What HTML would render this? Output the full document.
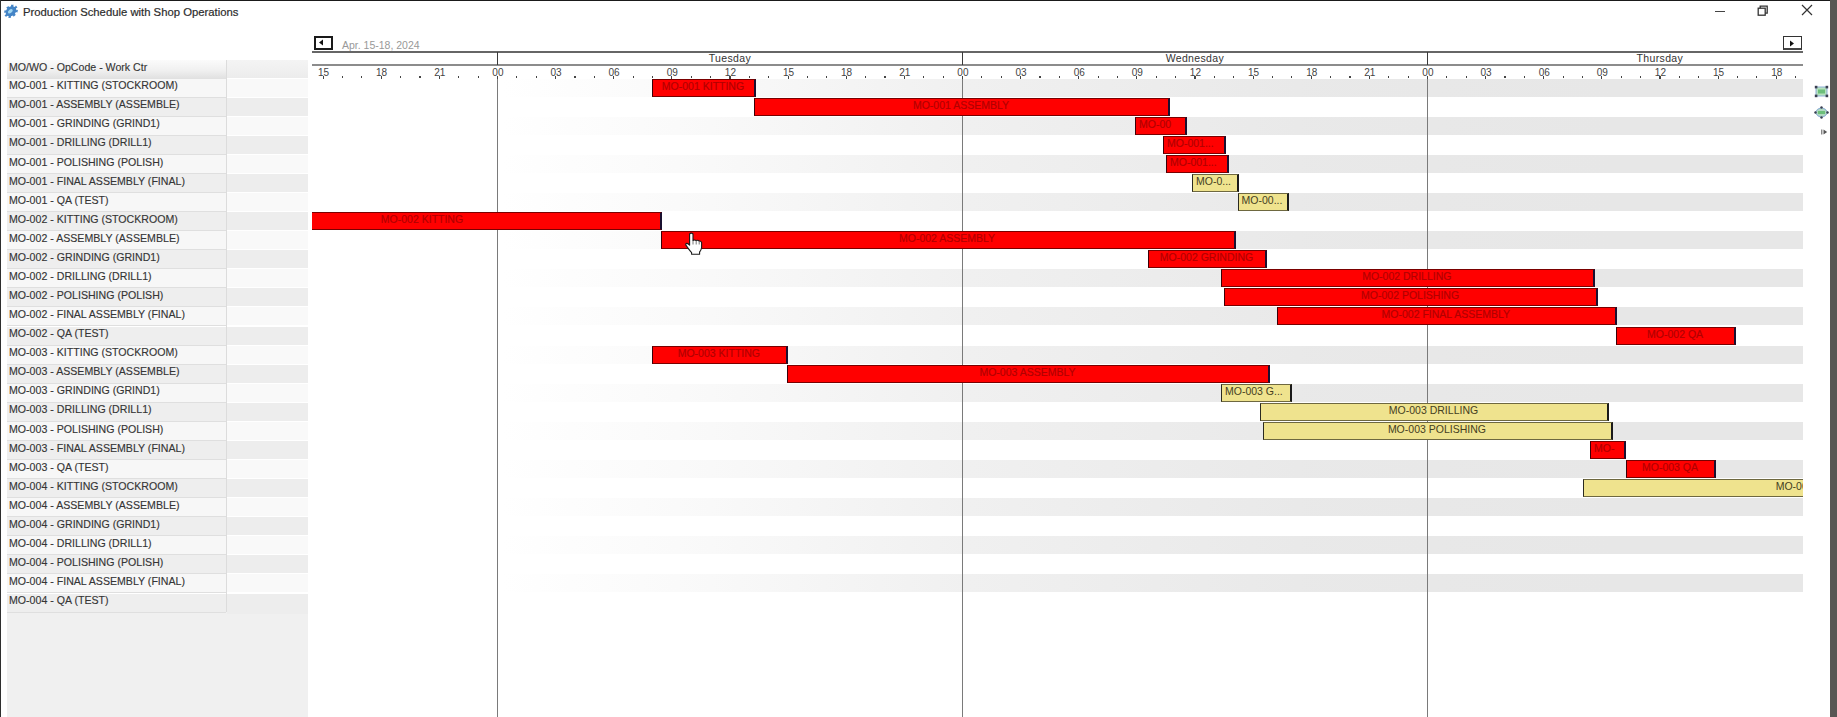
<!DOCTYPE html>
<html><head><meta charset="utf-8"><title>Production Schedule with Shop Operations</title>
<style>
html,body{margin:0;padding:0;}
body{width:1837px;height:717px;position:relative;overflow:hidden;background:#fff;font-family:"Liberation Sans",sans-serif;}
.a{position:absolute;}
.lbl{position:absolute;left:7px;width:219px;height:19.1px;background:#f7f7f7;border-bottom:1.2px solid #dfdfdf;box-sizing:border-box;}
.lbl.o{background:#eeeeee;}
.lt{position:absolute;left:9px;font-size:11.6px;color:#333;-webkit-text-stroke:0.15px #3a3a3a;white-space:nowrap;line-height:12px;transform:scaleX(0.9145);transform-origin:0 0;}
.st{position:absolute;height:18px;}
.bar{position:absolute;box-sizing:border-box;overflow:hidden;white-space:nowrap;font-size:10.5px;line-height:12px;}
.bar.r{background:#ff0000;border:1.4px solid #7a0000;border-left-color:#3a0008;border-right:2px solid #1a1030;color:#b00000;-webkit-text-stroke:0.15px #b00000;}
.bar.y{background:#efe38e;border:1.3px solid #6e6840;border-left:1.5px solid #2a2a20;border-right:2px solid #1a1a1a;color:#45401e;}
.bar span{position:absolute;top:0px;}
.hl{position:absolute;font-size:10px;color:#444;line-height:10px;width:30px;text-align:center;}
.tk{position:absolute;width:1.2px;height:2px;background:#444;top:76px;}
</style></head><body>

<div class="a" style="left:0;top:0;width:1837px;height:1px;background:#1a1a1a"></div>
<div class="a" style="left:0;top:0;width:1px;height:717px;background:#2e2e2e"></div>
<div class="a" style="left:1830px;top:0;width:7px;height:717px;background:#585654"></div>
<svg class="a" style="left:0.5px;top:1px" width="19" height="19" viewBox="-9.5 -9.5 19 19">
<g transform="translate(0.5,0.8) rotate(-40) scale(1,0.78)"><path d="M7.45 -1.51 L7.45 1.51 L5.79 1.13 L4.89 3.30 L6.33 4.20 L4.20 6.33 L3.30 4.89 L1.13 5.79 L1.51 7.45 L-1.51 7.45 L-1.13 5.79 L-3.30 4.89 L-4.20 6.33 L-6.33 4.20 L-4.89 3.30 L-5.79 1.13 L-7.45 1.51 L-7.45 -1.51 L-5.79 -1.13 L-4.89 -3.30 L-6.33 -4.20 L-4.20 -6.33 L-3.30 -4.89 L-1.13 -5.79 L-1.51 -7.45 L1.51 -7.45 L1.13 -5.79 L3.30 -4.89 L4.20 -6.33 L6.33 -4.20 L4.89 -3.30 L5.79 -1.13Z" fill="#4384c6"/><ellipse cx="-0.5" cy="-0.6" rx="2.8" ry="2.2" fill="#9fd6f2"/></g>
</svg>
<div class="a" style="left:23px;top:5px;font-size:11.3px;color:#2a2a2a;-webkit-text-stroke:0.2px #333;line-height:14px;white-space:nowrap">Production Schedule with Shop Operations</div>
<div class="a" style="left:1715px;top:10.5px;width:10px;height:1.3px;background:#444"></div>
<svg class="a" style="left:1757px;top:5px" width="12" height="11" viewBox="0 0 12 11"><rect x="1.2" y="3.2" width="7" height="7" fill="none" stroke="#333" stroke-width="1.3"/><path d="M3.2 3.2 V1.2 H10.2 V8.2 H8.2" fill="none" stroke="#333" stroke-width="1.3"/></svg>
<svg class="a" style="left:1801px;top:4px" width="12" height="12" viewBox="0 0 12 12"><path d="M1 1 L11 11 M11 1 L1 11" stroke="#333" stroke-width="1.2"/></svg>
<div class="a" style="left:7px;top:612px;width:301px;height:105px;background:#f0f0f0"></div><div class="a" style="left:227px;top:594px;width:81px;height:20px;background:#ededed"></div>
<div class="a" style="left:7px;top:60px;width:219px;height:19px;background:linear-gradient(#fbfbfb,#f0f0f0 55%,#e0e0e0)"></div>
<div class="lt" style="top:60.7px">MO/WO - OpCode - Work Ctr</div>
<div class="st" style="left:227px;top:60px;width:81px;background:linear-gradient(#f4f4f4,#ececec)"></div>
<div class="lbl" style="top:78.6px"></div>
<div class="lt" style="top:79.2px">MO-001 - KITTING (STOCKROOM)</div>
<div class="st" style="left:227px;top:78.6px;width:81px;background:#f9f9f9"></div>
<div class="lbl o" style="top:97.7px"></div>
<div class="lt" style="top:98.3px">MO-001 - ASSEMBLY (ASSEMBLE)</div>
<div class="st" style="left:227px;top:97.7px;width:81px;background:#ededed"></div>
<div class="lbl" style="top:116.7px"></div>
<div class="lt" style="top:117.3px">MO-001 - GRINDING (GRIND1)</div>
<div class="st" style="left:227px;top:116.7px;width:81px;background:#f9f9f9"></div>
<div class="lbl o" style="top:135.8px"></div>
<div class="lt" style="top:136.4px">MO-001 - DRILLING (DRILL1)</div>
<div class="st" style="left:227px;top:135.8px;width:81px;background:#ededed"></div>
<div class="lbl" style="top:154.9px"></div>
<div class="lt" style="top:155.5px">MO-001 - POLISHING (POLISH)</div>
<div class="st" style="left:227px;top:154.9px;width:81px;background:#f9f9f9"></div>
<div class="lbl o" style="top:173.9px"></div>
<div class="lt" style="top:174.5px">MO-001 - FINAL ASSEMBLY (FINAL)</div>
<div class="st" style="left:227px;top:173.9px;width:81px;background:#ededed"></div>
<div class="lbl" style="top:193.0px"></div>
<div class="lt" style="top:193.6px">MO-001 - QA (TEST)</div>
<div class="st" style="left:227px;top:193.0px;width:81px;background:#f9f9f9"></div>
<div class="lbl o" style="top:212.1px"></div>
<div class="lt" style="top:212.7px">MO-002 - KITTING (STOCKROOM)</div>
<div class="st" style="left:227px;top:212.1px;width:81px;background:#ededed"></div>
<div class="lbl" style="top:231.2px"></div>
<div class="lt" style="top:231.8px">MO-002 - ASSEMBLY (ASSEMBLE)</div>
<div class="st" style="left:227px;top:231.2px;width:81px;background:#f9f9f9"></div>
<div class="lbl o" style="top:250.2px"></div>
<div class="lt" style="top:250.8px">MO-002 - GRINDING (GRIND1)</div>
<div class="st" style="left:227px;top:250.2px;width:81px;background:#ededed"></div>
<div class="lbl" style="top:269.3px"></div>
<div class="lt" style="top:269.9px">MO-002 - DRILLING (DRILL1)</div>
<div class="st" style="left:227px;top:269.3px;width:81px;background:#f9f9f9"></div>
<div class="lbl o" style="top:288.4px"></div>
<div class="lt" style="top:289.0px">MO-002 - POLISHING (POLISH)</div>
<div class="st" style="left:227px;top:288.4px;width:81px;background:#ededed"></div>
<div class="lbl" style="top:307.4px"></div>
<div class="lt" style="top:308.0px">MO-002 - FINAL ASSEMBLY (FINAL)</div>
<div class="st" style="left:227px;top:307.4px;width:81px;background:#f9f9f9"></div>
<div class="lbl o" style="top:326.5px"></div>
<div class="lt" style="top:327.1px">MO-002 - QA (TEST)</div>
<div class="st" style="left:227px;top:326.5px;width:81px;background:#ededed"></div>
<div class="lbl" style="top:345.6px"></div>
<div class="lt" style="top:346.2px">MO-003 - KITTING (STOCKROOM)</div>
<div class="st" style="left:227px;top:345.6px;width:81px;background:#f9f9f9"></div>
<div class="lbl o" style="top:364.6px"></div>
<div class="lt" style="top:365.2px">MO-003 - ASSEMBLY (ASSEMBLE)</div>
<div class="st" style="left:227px;top:364.6px;width:81px;background:#ededed"></div>
<div class="lbl" style="top:383.7px"></div>
<div class="lt" style="top:384.3px">MO-003 - GRINDING (GRIND1)</div>
<div class="st" style="left:227px;top:383.7px;width:81px;background:#f9f9f9"></div>
<div class="lbl o" style="top:402.8px"></div>
<div class="lt" style="top:403.4px">MO-003 - DRILLING (DRILL1)</div>
<div class="st" style="left:227px;top:402.8px;width:81px;background:#ededed"></div>
<div class="lbl" style="top:421.9px"></div>
<div class="lt" style="top:422.5px">MO-003 - POLISHING (POLISH)</div>
<div class="st" style="left:227px;top:421.9px;width:81px;background:#f9f9f9"></div>
<div class="lbl o" style="top:440.9px"></div>
<div class="lt" style="top:441.5px">MO-003 - FINAL ASSEMBLY (FINAL)</div>
<div class="st" style="left:227px;top:440.9px;width:81px;background:#ededed"></div>
<div class="lbl" style="top:460.0px"></div>
<div class="lt" style="top:460.6px">MO-003 - QA (TEST)</div>
<div class="st" style="left:227px;top:460.0px;width:81px;background:#f9f9f9"></div>
<div class="lbl o" style="top:479.1px"></div>
<div class="lt" style="top:479.7px">MO-004 - KITTING (STOCKROOM)</div>
<div class="st" style="left:227px;top:479.1px;width:81px;background:#ededed"></div>
<div class="lbl" style="top:498.1px"></div>
<div class="lt" style="top:498.7px">MO-004 - ASSEMBLY (ASSEMBLE)</div>
<div class="st" style="left:227px;top:498.1px;width:81px;background:#f9f9f9"></div>
<div class="lbl o" style="top:517.2px"></div>
<div class="lt" style="top:517.8px">MO-004 - GRINDING (GRIND1)</div>
<div class="st" style="left:227px;top:517.2px;width:81px;background:#ededed"></div>
<div class="lbl" style="top:536.3px"></div>
<div class="lt" style="top:536.9px">MO-004 - DRILLING (DRILL1)</div>
<div class="st" style="left:227px;top:536.3px;width:81px;background:#f9f9f9"></div>
<div class="lbl o" style="top:555.4px"></div>
<div class="lt" style="top:556.0px">MO-004 - POLISHING (POLISH)</div>
<div class="st" style="left:227px;top:555.4px;width:81px;background:#ededed"></div>
<div class="lbl" style="top:574.4px"></div>
<div class="lt" style="top:575.0px">MO-004 - FINAL ASSEMBLY (FINAL)</div>
<div class="st" style="left:227px;top:574.4px;width:81px;background:#f9f9f9"></div>
<div class="lbl o" style="top:593.5px"></div>
<div class="lt" style="top:594.1px">MO-004 - QA (TEST)</div>
<div class="st" style="left:227px;top:593.5px;width:81px;background:#ededed"></div>
<div class="a" style="left:225.5px;top:60px;width:1.5px;height:552px;background:#dcdcdc"></div>
<div class="st" style="left:312px;top:78.6px;width:1491px;background:linear-gradient(90deg,rgba(231,231,231,0) 0px,rgba(231,231,231,0) 190px,rgba(231,231,231,0.25) 400px,rgba(231,231,231,0.62) 650px,rgba(231,231,231,0.93) 1000px,rgba(231,231,231,1) 1300px)"></div>
<div class="st" style="left:312px;top:116.7px;width:1491px;background:linear-gradient(90deg,rgba(231,231,231,0) 0px,rgba(231,231,231,0) 190px,rgba(231,231,231,0.25) 400px,rgba(231,231,231,0.62) 650px,rgba(231,231,231,0.93) 1000px,rgba(231,231,231,1) 1300px)"></div>
<div class="st" style="left:312px;top:154.9px;width:1491px;background:linear-gradient(90deg,rgba(231,231,231,0) 0px,rgba(231,231,231,0) 190px,rgba(231,231,231,0.25) 400px,rgba(231,231,231,0.62) 650px,rgba(231,231,231,0.93) 1000px,rgba(231,231,231,1) 1300px)"></div>
<div class="st" style="left:312px;top:193.0px;width:1491px;background:linear-gradient(90deg,rgba(231,231,231,0) 0px,rgba(231,231,231,0) 190px,rgba(231,231,231,0.25) 400px,rgba(231,231,231,0.62) 650px,rgba(231,231,231,0.93) 1000px,rgba(231,231,231,1) 1300px)"></div>
<div class="st" style="left:312px;top:231.2px;width:1491px;background:linear-gradient(90deg,rgba(231,231,231,0) 0px,rgba(231,231,231,0) 190px,rgba(231,231,231,0.25) 400px,rgba(231,231,231,0.62) 650px,rgba(231,231,231,0.93) 1000px,rgba(231,231,231,1) 1300px)"></div>
<div class="st" style="left:312px;top:269.3px;width:1491px;background:linear-gradient(90deg,rgba(231,231,231,0) 0px,rgba(231,231,231,0) 190px,rgba(231,231,231,0.25) 400px,rgba(231,231,231,0.62) 650px,rgba(231,231,231,0.93) 1000px,rgba(231,231,231,1) 1300px)"></div>
<div class="st" style="left:312px;top:307.4px;width:1491px;background:linear-gradient(90deg,rgba(231,231,231,0) 0px,rgba(231,231,231,0) 190px,rgba(231,231,231,0.25) 400px,rgba(231,231,231,0.62) 650px,rgba(231,231,231,0.93) 1000px,rgba(231,231,231,1) 1300px)"></div>
<div class="st" style="left:312px;top:345.6px;width:1491px;background:linear-gradient(90deg,rgba(231,231,231,0) 0px,rgba(231,231,231,0) 190px,rgba(231,231,231,0.25) 400px,rgba(231,231,231,0.62) 650px,rgba(231,231,231,0.93) 1000px,rgba(231,231,231,1) 1300px)"></div>
<div class="st" style="left:312px;top:383.7px;width:1491px;background:linear-gradient(90deg,rgba(231,231,231,0) 0px,rgba(231,231,231,0) 190px,rgba(231,231,231,0.25) 400px,rgba(231,231,231,0.62) 650px,rgba(231,231,231,0.93) 1000px,rgba(231,231,231,1) 1300px)"></div>
<div class="st" style="left:312px;top:421.9px;width:1491px;background:linear-gradient(90deg,rgba(231,231,231,0) 0px,rgba(231,231,231,0) 190px,rgba(231,231,231,0.25) 400px,rgba(231,231,231,0.62) 650px,rgba(231,231,231,0.93) 1000px,rgba(231,231,231,1) 1300px)"></div>
<div class="st" style="left:312px;top:460.0px;width:1491px;background:linear-gradient(90deg,rgba(231,231,231,0) 0px,rgba(231,231,231,0) 190px,rgba(231,231,231,0.25) 400px,rgba(231,231,231,0.62) 650px,rgba(231,231,231,0.93) 1000px,rgba(231,231,231,1) 1300px)"></div>
<div class="st" style="left:312px;top:498.1px;width:1491px;background:linear-gradient(90deg,rgba(231,231,231,0) 0px,rgba(231,231,231,0) 190px,rgba(231,231,231,0.25) 400px,rgba(231,231,231,0.62) 650px,rgba(231,231,231,0.93) 1000px,rgba(231,231,231,1) 1300px)"></div>
<div class="st" style="left:312px;top:536.3px;width:1491px;background:linear-gradient(90deg,rgba(231,231,231,0) 0px,rgba(231,231,231,0) 190px,rgba(231,231,231,0.25) 400px,rgba(231,231,231,0.62) 650px,rgba(231,231,231,0.93) 1000px,rgba(231,231,231,1) 1300px)"></div>
<div class="st" style="left:312px;top:574.4px;width:1491px;background:linear-gradient(90deg,rgba(231,231,231,0) 0px,rgba(231,231,231,0) 190px,rgba(231,231,231,0.25) 400px,rgba(231,231,231,0.62) 650px,rgba(231,231,231,0.93) 1000px,rgba(231,231,231,1) 1300px)"></div>
<div class="a" style="left:312px;top:51px;width:1491px;height:1.5px;background:#666"></div>
<div class="a" style="left:312px;top:64px;width:1491px;height:2px;background:#8c8c8c"></div>
<div class="a" style="left:314px;top:36px;width:15px;height:10px;border:2px solid #1a1a1a;border-bottom-width:2.5px;background:#fff"></div>
<svg class="a" style="left:318px;top:39px" width="6" height="7" viewBox="0 0 6 7"><path d="M5 0.5 L1 3.5 L5 6.5Z" fill="#111"/></svg>
<div class="a" style="left:1782.5px;top:36px;width:17.5px;height:11px;border:1px solid #333;border-bottom:2px solid #444;background:#fff"></div>
<svg class="a" style="left:1789px;top:39.5px" width="6" height="7" viewBox="0 0 6 7"><path d="M1 0.5 L5 3.5 L1 6.5Z" fill="#111"/></svg>
<div class="a" style="left:342px;top:39px;font-size:10.5px;color:#999;line-height:12px;white-space:nowrap">Apr. 15-18, 2024</div>
<div class="a" style="left:496.9px;top:76px;width:1.1px;height:641px;background:#7a7a7a"></div>
<div class="a" style="left:496.6px;top:52px;width:1.6px;height:13px;background:#3a3a3a"></div>
<div class="a" style="left:679.9px;top:51.6px;width:100px;text-align:center;font-size:10.5px;color:#333;line-height:12px;letter-spacing:0.35px">Tuesday</div>
<div class="a" style="left:961.9px;top:76px;width:1.1px;height:641px;background:#7a7a7a"></div>
<div class="a" style="left:961.6px;top:52px;width:1.6px;height:13px;background:#3a3a3a"></div>
<div class="a" style="left:1144.9px;top:51.6px;width:100px;text-align:center;font-size:10.5px;color:#333;line-height:12px;letter-spacing:0.35px">Wednesday</div>
<div class="a" style="left:1426.9px;top:76px;width:1.1px;height:641px;background:#7a7a7a"></div>
<div class="a" style="left:1426.6px;top:52px;width:1.6px;height:13px;background:#3a3a3a"></div>
<div class="a" style="left:1609.9px;top:51.6px;width:100px;text-align:center;font-size:10.5px;color:#333;line-height:12px;letter-spacing:0.35px">Thursday</div>
<div class="hl" style="left:308.5px;top:68px">15</div>
<div class="tk" style="left:322.5px;top:75.5px;height:3px"></div>
<div class="tk" style="left:341.9px"></div>
<div class="tk" style="left:361.3px"></div>
<div class="hl" style="left:366.6px;top:68px">18</div>
<div class="tk" style="left:380.6px;top:75.5px;height:3px"></div>
<div class="tk" style="left:400.0px"></div>
<div class="tk" style="left:419.4px"></div>
<div class="hl" style="left:424.8px;top:68px">21</div>
<div class="tk" style="left:438.8px;top:75.5px;height:3px"></div>
<div class="tk" style="left:458.1px"></div>
<div class="tk" style="left:477.5px"></div>
<div class="hl" style="left:482.9px;top:68px">00</div>
<div class="tk" style="left:496.9px;top:75.5px;height:3px"></div>
<div class="tk" style="left:516.3px"></div>
<div class="tk" style="left:535.6px"></div>
<div class="hl" style="left:541.0px;top:68px">03</div>
<div class="tk" style="left:555.0px;top:75.5px;height:3px"></div>
<div class="tk" style="left:574.4px"></div>
<div class="tk" style="left:593.8px"></div>
<div class="hl" style="left:599.1px;top:68px">06</div>
<div class="tk" style="left:613.1px;top:75.5px;height:3px"></div>
<div class="tk" style="left:632.5px"></div>
<div class="tk" style="left:651.9px"></div>
<div class="hl" style="left:657.3px;top:68px">09</div>
<div class="tk" style="left:671.3px;top:75.5px;height:3px"></div>
<div class="tk" style="left:690.6px"></div>
<div class="tk" style="left:710.0px"></div>
<div class="hl" style="left:715.4px;top:68px">12</div>
<div class="tk" style="left:729.4px;top:75.5px;height:3px"></div>
<div class="tk" style="left:748.8px"></div>
<div class="tk" style="left:768.1px"></div>
<div class="hl" style="left:773.5px;top:68px">15</div>
<div class="tk" style="left:787.5px;top:75.5px;height:3px"></div>
<div class="tk" style="left:806.9px"></div>
<div class="tk" style="left:826.3px"></div>
<div class="hl" style="left:831.6px;top:68px">18</div>
<div class="tk" style="left:845.6px;top:75.5px;height:3px"></div>
<div class="tk" style="left:865.0px"></div>
<div class="tk" style="left:884.4px"></div>
<div class="hl" style="left:889.8px;top:68px">21</div>
<div class="tk" style="left:903.8px;top:75.5px;height:3px"></div>
<div class="tk" style="left:923.1px"></div>
<div class="tk" style="left:942.5px"></div>
<div class="hl" style="left:947.9px;top:68px">00</div>
<div class="tk" style="left:961.9px;top:75.5px;height:3px"></div>
<div class="tk" style="left:981.3px"></div>
<div class="tk" style="left:1000.6px"></div>
<div class="hl" style="left:1006.0px;top:68px">03</div>
<div class="tk" style="left:1020.0px;top:75.5px;height:3px"></div>
<div class="tk" style="left:1039.4px"></div>
<div class="tk" style="left:1058.8px"></div>
<div class="hl" style="left:1064.2px;top:68px">06</div>
<div class="tk" style="left:1078.2px;top:75.5px;height:3px"></div>
<div class="tk" style="left:1097.5px"></div>
<div class="tk" style="left:1116.9px"></div>
<div class="hl" style="left:1122.3px;top:68px">09</div>
<div class="tk" style="left:1136.3px;top:75.5px;height:3px"></div>
<div class="tk" style="left:1155.7px"></div>
<div class="tk" style="left:1175.0px"></div>
<div class="hl" style="left:1180.4px;top:68px">12</div>
<div class="tk" style="left:1194.4px;top:75.5px;height:3px"></div>
<div class="tk" style="left:1213.8px"></div>
<div class="tk" style="left:1233.2px"></div>
<div class="hl" style="left:1238.5px;top:68px">15</div>
<div class="tk" style="left:1252.5px;top:75.5px;height:3px"></div>
<div class="tk" style="left:1271.9px"></div>
<div class="tk" style="left:1291.3px"></div>
<div class="hl" style="left:1296.7px;top:68px">18</div>
<div class="tk" style="left:1310.7px;top:75.5px;height:3px"></div>
<div class="tk" style="left:1330.0px"></div>
<div class="tk" style="left:1349.4px"></div>
<div class="hl" style="left:1354.8px;top:68px">21</div>
<div class="tk" style="left:1368.8px;top:75.5px;height:3px"></div>
<div class="tk" style="left:1388.2px"></div>
<div class="tk" style="left:1407.5px"></div>
<div class="hl" style="left:1412.9px;top:68px">00</div>
<div class="tk" style="left:1426.9px;top:75.5px;height:3px"></div>
<div class="tk" style="left:1446.3px"></div>
<div class="tk" style="left:1465.7px"></div>
<div class="hl" style="left:1471.0px;top:68px">03</div>
<div class="tk" style="left:1485.0px;top:75.5px;height:3px"></div>
<div class="tk" style="left:1504.4px"></div>
<div class="tk" style="left:1523.8px"></div>
<div class="hl" style="left:1529.2px;top:68px">06</div>
<div class="tk" style="left:1543.2px;top:75.5px;height:3px"></div>
<div class="tk" style="left:1562.5px"></div>
<div class="tk" style="left:1581.9px"></div>
<div class="hl" style="left:1587.3px;top:68px">09</div>
<div class="tk" style="left:1601.3px;top:75.5px;height:3px"></div>
<div class="tk" style="left:1620.7px"></div>
<div class="tk" style="left:1640.0px"></div>
<div class="hl" style="left:1645.4px;top:68px">12</div>
<div class="tk" style="left:1659.4px;top:75.5px;height:3px"></div>
<div class="tk" style="left:1678.8px"></div>
<div class="tk" style="left:1698.2px"></div>
<div class="hl" style="left:1703.5px;top:68px">15</div>
<div class="tk" style="left:1717.5px;top:75.5px;height:3px"></div>
<div class="tk" style="left:1736.9px"></div>
<div class="tk" style="left:1756.3px"></div>
<div class="hl" style="left:1761.7px;top:68px">18</div>
<div class="tk" style="left:1775.7px;top:75.5px;height:3px"></div>
<div class="tk" style="left:1795.0px"></div>
<div class="bar r" style="left:652.0px;top:78.6px;width:104.0px;height:18px"><span style="left:-2.0px;width:104.0px;text-align:center">MO-001 KITTING</span></div>
<div class="bar r" style="left:754.0px;top:97.7px;width:416.0px;height:18px"><span style="left:-2.0px;width:416.0px;text-align:center">MO-001 ASSEMBLY</span></div>
<div class="bar r" style="left:1135.0px;top:116.7px;width:52.0px;height:18px"><span style="left:3px">MO-00</span></div>
<div class="bar r" style="left:1163.0px;top:135.8px;width:62.5px;height:18px"><span style="left:3px">MO-001...</span></div>
<div class="bar r" style="left:1166.0px;top:154.9px;width:63.0px;height:18px"><span style="left:3px">MO-001...</span></div>
<div class="bar y" style="left:1192.0px;top:173.9px;width:46.6px;height:18px"><span style="left:3px">MO-0...</span></div>
<div class="bar y" style="left:1237.6px;top:193.0px;width:51.7px;height:18px"><span style="left:3px">MO-00...</span></div>
<div class="bar r" style="left:312.0px;top:212.1px;width:350.0px;height:18px;border-left:none"><span style="left:-128.0px;width:476.0px;text-align:center">MO-002 KITTING</span></div>
<div class="bar r" style="left:660.5px;top:231.2px;width:575.1px;height:18px"><span style="left:-2.0px;width:575.1px;text-align:center">MO-002 ASSEMBLY</span></div>
<div class="bar r" style="left:1148.0px;top:250.2px;width:119.0px;height:18px"><span style="left:-2.0px;width:119.0px;text-align:center">MO-002 GRINDING</span></div>
<div class="bar r" style="left:1221.0px;top:269.3px;width:373.6px;height:18px"><span style="left:-2.0px;width:373.6px;text-align:center">MO-002 DRILLING</span></div>
<div class="bar r" style="left:1223.7px;top:288.4px;width:374.8px;height:18px"><span style="left:-2.0px;width:374.8px;text-align:center">MO-002 POLISHING</span></div>
<div class="bar r" style="left:1276.6px;top:307.4px;width:340.4px;height:18px"><span style="left:-2.0px;width:340.4px;text-align:center">MO-002 FINAL ASSEMBLY</span></div>
<div class="bar r" style="left:1615.8px;top:326.5px;width:120.6px;height:18px"><span style="left:-2.0px;width:120.6px;text-align:center">MO-002 QA</span></div>
<div class="bar r" style="left:652.0px;top:345.6px;width:135.7px;height:18px"><span style="left:-2.0px;width:135.7px;text-align:center">MO-003 KITTING</span></div>
<div class="bar r" style="left:787.0px;top:364.6px;width:483.0px;height:18px"><span style="left:-2.0px;width:483.0px;text-align:center">MO-003 ASSEMBLY</span></div>
<div class="bar y" style="left:1221.0px;top:383.7px;width:71.0px;height:18px"><span style="left:3px">MO-003 G...</span></div>
<div class="bar y" style="left:1260.0px;top:402.8px;width:349.0px;height:18px"><span style="left:-2.0px;width:349.0px;text-align:center">MO-003 DRILLING</span></div>
<div class="bar y" style="left:1263.0px;top:421.9px;width:349.8px;height:18px"><span style="left:-2.0px;width:349.8px;text-align:center">MO-003 POLISHING</span></div>
<div class="bar r" style="left:1590.0px;top:440.9px;width:36.0px;height:18px"><span style="left:3px">MO-</span></div>
<div class="bar r" style="left:1626.0px;top:460.0px;width:90.0px;height:18px"><span style="left:-2.0px;width:90.0px;text-align:center">MO-003 QA</span></div>
<div class="bar y" style="left:1582.6px;top:479.1px;width:220.4px;height:18px;border-right:none"><span style="left:-2.0px;width:470.4px;text-align:center">MO-004 KITTING</span></div>
<svg class="a" style="left:1813.5px;top:85px" width="15" height="13" viewBox="0 0 15 13">
<rect x="2" y="2" width="11" height="9" fill="#b5e0bd" stroke="#8fb0d8" stroke-width="1"/>
<rect x="4" y="4.5" width="7" height="4" fill="#6cbf7a"/>
<rect x="0.8" y="0.8" width="2.6" height="2.6" fill="#3a3f50"/><rect x="11.6" y="0.8" width="2.6" height="2.6" fill="#3a3f50"/>
<rect x="0.8" y="9.6" width="2.6" height="2.6" fill="#3a3f50"/><rect x="11.6" y="9.6" width="2.6" height="2.6" fill="#3a3f50"/>
</svg>
<svg class="a" style="left:1813.5px;top:106px" width="15" height="13" viewBox="0 0 15 13">
<path d="M7.5 1.5 Q12 2.5 13.8 6.5 Q12 10.5 7.5 11.5 Q3 10.5 1.2 6.5 Q3 2.5 7.5 1.5Z" fill="#b0d8c0" stroke="#8aaad8" stroke-width="1"/>
<rect x="4" y="5" width="7" height="3" fill="#6cbf7a"/>
<circle cx="7.5" cy="1.5" r="1.2" fill="#3a3f50"/><circle cx="7.5" cy="11.5" r="1.2" fill="#3a3f50"/>
<circle cx="1.5" cy="6.5" r="1.2" fill="#3a3f50"/><circle cx="13.5" cy="6.5" r="1.2" fill="#3a3f50"/>
</svg>
<svg class="a" style="left:1821px;top:128.5px" width="7" height="6" viewBox="0 0 7 6"><rect x="0.3" y="0.5" width="1" height="5" fill="#555"/><path d="M2.5 0.5 L6.2 3 L2.5 5.5Z" fill="#555"/></svg>
<svg class="a" style="left:685px;top:232px" width="18" height="24" viewBox="0 0 18 24">
<path d="M4.6 2 Q6.3 0.2 8 2 L8 8.5 Q9.7 7.4 11.2 8.6 Q12.8 7.8 14.2 9.1 Q15.9 8.8 16.6 10.5 L16.6 15.5 Q16.2 18.3 14.6 20 L14.6 22.3 L6.6 22.3 L6.6 20.6 Q4.8 18.6 3.4 16.6 L0.9 13.2 Q0.3 11.6 1.8 11.4 Q3 11.3 4.6 13.2 Z" fill="#fff" stroke="#1a1a1a" stroke-width="1.1" stroke-linejoin="round"/>
<path d="M8 8.5 V12.5 M11.2 8.6 V12.5 M14.2 9.1 V12.5" stroke="#555" stroke-width="0.8"/>
</svg>
</body></html>
